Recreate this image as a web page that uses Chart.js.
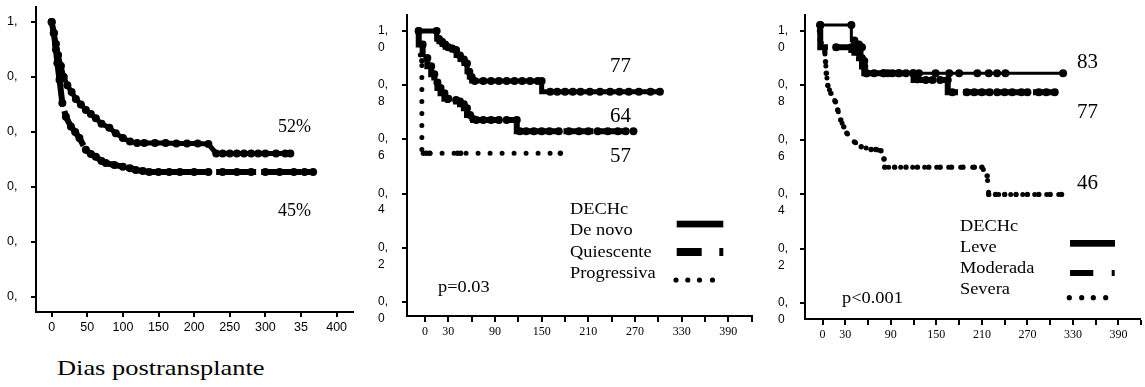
<!DOCTYPE html>
<html>
<head>
<meta charset="utf-8">
<script src="https://cdn.jsdelivr.net/npm/chart.js@4.4.1/dist/chart.umd.min.js"></script>
<style>
    html, body { margin: 0; padding: 0; background: #fff; }
    #wrap { position: relative; width: 1145px; height: 387px; overflow: hidden; }
    canvas { position: absolute; top: 0; }
    .t { position: absolute; font-family: 'Liberation Serif', 'Times New Roman', serif; line-height: 1; white-space: nowrap; color: #000; transform-origin: 0 0; }
    svg { position: absolute; }
</style>
</head>
<body>
<div id="wrap">
    <canvas id="c1" width="362" height="345" style="left:0;width:362px;height:345px"></canvas>
    <canvas id="c2" width="390" height="345" style="left:370px;width:390px;height:345px"></canvas>
    <canvas id="c3" width="385" height="345" style="left:760px;width:385px;height:345px"></canvas>

    <!-- panel 1 -->
    <div class="t" style="left:278px;top:117px;font-size:18px">52%</div>
    <div class="t" style="left:278px;top:201px;font-size:18px">45%</div>
    <div class="t" style="left:57px;top:357px;font-size:22px;transform:scaleX(1.2)">Dias postransplante</div>

    <!-- panel 2 -->
    <div class="t" style="left:610px;top:55px;font-size:21px">77</div>
    <div class="t" style="left:610px;top:105px;font-size:21px">64</div>
    <div class="t" style="left:610px;top:145px;font-size:21px">57</div>
    <div class="t" style="left:570px;top:200px;font-size:17px;transform:scaleX(1.08)">DECHc</div>
    <div class="t" style="left:570px;top:221px;font-size:17px;transform:scaleX(1.08)">De novo</div>
    <div class="t" style="left:570px;top:243px;font-size:17px;transform:scaleX(1.08)">Quiescente</div>
    <div class="t" style="left:570px;top:264px;font-size:17px;transform:scaleX(1.08)">Progressiva</div>
    <div class="t" style="left:438px;top:278px;font-size:17px;transform:scaleX(1.08)">p=0.03</div>
    <svg style="left:670px;top:215px" width="60" height="75">
        <rect x="6.7" y="5.7" width="46.6" height="6.7" fill="#000"/>
        <rect x="6.7" y="33" width="25" height="8" fill="#000"/>
        <rect x="49.3" y="33" width="4" height="8" fill="#000"/>
        <circle cx="6" cy="65" r="2.6"/><circle cx="17.8" cy="65" r="2.6"/><circle cx="29.5" cy="65" r="2.6"/><circle cx="42.5" cy="65" r="2.6"/>
    </svg>

    <!-- panel 3 -->
    <div class="t" style="left:1077px;top:51px;font-size:21px">83</div>
    <div class="t" style="left:1077px;top:101px;font-size:21px">77</div>
    <div class="t" style="left:1077px;top:172px;font-size:21px">46</div>
    <div class="t" style="left:960px;top:217px;font-size:17px;transform:scaleX(1.08)">DECHc</div>
    <div class="t" style="left:960px;top:238px;font-size:17px;transform:scaleX(1.08)">Leve</div>
    <div class="t" style="left:960px;top:259px;font-size:17px;transform:scaleX(1.08)">Moderada</div>
    <div class="t" style="left:960px;top:280px;font-size:17px;transform:scaleX(1.08)">Severa</div>
    <div class="t" style="left:842px;top:289px;font-size:17px;transform:scaleX(1.08)">p&lt;0.001</div>
    <svg style="left:1064px;top:235px" width="60" height="70">
        <rect x="6" y="5" width="45" height="6.7" fill="#000"/>
        <rect x="6" y="35" width="23.3" height="6" fill="#000"/>
        <rect x="47.7" y="35" width="3" height="6" fill="#000"/>
        <circle cx="5.3" cy="62.7" r="2.6"/><circle cx="17.7" cy="62.7" r="2.6"/><circle cx="29.3" cy="62.7" r="2.6"/><circle cx="41.7" cy="62.7" r="2.6"/>
    </svg>
</div>

<script>
/* ---- panel 1: global survival ---- */
const upperDays = [0, 3, 6, 9, 13, 17, 22, 28, 34, 41, 48, 55, 62, 70, 81, 90, 100, 110, 120, 130, 145, 160, 175, 190, 205, 220, 231, 240, 250, 260, 270, 280, 290, 300, 315, 328, 335];
const upperSurv = [1.0, 0.96, 0.92, 0.88, 0.84, 0.80, 0.77, 0.745, 0.72, 0.70, 0.68, 0.665, 0.65, 0.63, 0.615, 0.595, 0.578, 0.565, 0.56, 0.56, 0.56, 0.56, 0.558, 0.558, 0.558, 0.556, 0.522, 0.522, 0.522, 0.522, 0.522, 0.522, 0.522, 0.522, 0.522, 0.522, 0.522];
const lowerDays = [0, 3, 6, 8, 11, 15, 20, 27, 33, 39, 48, 55, 62, 70, 76, 88, 100, 110, 118, 128, 137, 150, 165, 180, 200, 220, 240, 260, 280, 300, 320, 340, 355, 367];
const lowerSurv = [1.0, 0.96, 0.90, 0.85, 0.79, 0.705, 0.655, 0.62, 0.60, 0.578, 0.535, 0.52, 0.51, 0.495, 0.487, 0.48, 0.474, 0.468, 0.462, 0.458, 0.455, 0.455, 0.455, 0.455, 0.455, 0.455, 0.455, 0.455, 0.455, 0.455, 0.455, 0.455, 0.455, 0.455];
const xTicks1 = [0, 50, 100, 150, 200, 250, 300, 350, 400];

/* ---- panel 2: DECHc de novo / quiescente / progressiva ---- */
const deNovoDays = [-8, 15, 18, 22, 26, 30, 35, 40, 45, 50, 54, 57, 60, 64, 75, 85, 95, 105, 115, 125, 135, 145, 150, 161, 170, 180, 190, 200, 212, 225, 238, 250, 262, 275, 290, 302];
const deNovoSurv = [1, 1, 0.97, 0.96, 0.95, 0.94, 0.935, 0.93, 0.91, 0.895, 0.88, 0.85, 0.83, 0.815, 0.815, 0.815, 0.815, 0.815, 0.815, 0.815, 0.815, 0.815, 0.815, 0.776, 0.776, 0.776, 0.776, 0.776, 0.776, 0.776, 0.776, 0.776, 0.776, 0.776, 0.776, 0.776];
const quiescDays = [-8, -3, 3, 8, 12, 16, 20, 25, 30, 40, 45, 50, 54, 58, 62, 66, 75, 85, 95, 105, 118, 122, 130, 140, 150, 160, 172, 185, 198, 210, 222, 235, 248, 258, 268];
const quiescSurv = [1, 0.95, 0.9, 0.87, 0.84, 0.81, 0.79, 0.77, 0.75, 0.745, 0.74, 0.73, 0.715, 0.69, 0.675, 0.672, 0.672, 0.672, 0.672, 0.672, 0.672, 0.63, 0.63, 0.63, 0.63, 0.63, 0.63, 0.63, 0.63, 0.63, 0.63, 0.63, 0.63, 0.63, 0.63];
const progDays = [-6, -4, -2, 2, 6, 42, 46, 174];
const progSurv = [1.0, 0.89, 0.549, 0.549, 0.549, 0.549, 0.549, 0.549];

/* ---- panel 3: DECHc leve / moderada / severa ---- */
const leveDays = [-3, 38, 42, 48, 52, 55, 58, 68, 81, 86, 92, 101, 110, 119, 127, 149, 167, 180, 204, 219, 230, 241, 317];
const leveSurv = [1.022, 1.022, 0.965, 0.95, 0.94, 0.89, 0.845, 0.845, 0.845, 0.845, 0.845, 0.845, 0.845, 0.845, 0.845, 0.845, 0.845, 0.845, 0.845, 0.845, 0.845, 0.845, 0.845];
const modDays = [-3, 18, 38, 42, 48, 52, 55, 58, 80, 100, 120, 136, 145, 155, 165, 171, 190, 200, 210, 220, 230, 240, 250, 262, 270, 285, 295, 306];
const modSurv = [1.022, 0.94, 0.94, 0.93, 0.92, 0.90, 0.87, 0.845, 0.845, 0.845, 0.845, 0.82, 0.82, 0.82, 0.82, 0.775, 0.775, 0.775, 0.775, 0.775, 0.775, 0.775, 0.775, 0.775, 0.775, 0.775, 0.775, 0.775];
const sevDays = [-4, -3, 3, 4, 5, 7, 11, 17, 20, 24, 28, 32, 42, 51, 64, 70, 77, 81, 82, 95, 110, 125, 140, 155, 170, 185, 200, 210, 217, 219, 228, 240, 255, 270, 285, 300, 315];
const sevSurv = [1.0, 0.967, 0.924, 0.887, 0.845, 0.80, 0.771, 0.74, 0.71, 0.673, 0.648, 0.625, 0.593, 0.575, 0.565, 0.565, 0.56, 0.53, 0.50, 0.50, 0.50, 0.50, 0.50, 0.50, 0.50, 0.50, 0.50, 0.50, 0.468, 0.40, 0.40, 0.40, 0.40, 0.40, 0.40, 0.40, 0.40];
const markDays = [125];
const markSurv = [0.82];

const yTicks = [0, 0.2, 0.4, 0.6, 0.8, 1];
const xTicks30 = [0, 30, 60, 90, 120, 150, 180, 210, 240, 270, 300, 330, 360, 390, 420];
const xLabelled = [0, 30, 90, 150, 210, 270, 330, 390];

Chart.defaults.font.family = "'Liberation Sans', Arial, sans-serif";
Chart.defaults.color = '#000';

const solid = { borderWidth: 5, pointRadius: 4 };
const dashed = { borderWidth: 6, borderDash: [30, 5], pointRadius: 4 };
const dotted = { borderWidth: 5, borderDash: [0, 12], borderCapStyle: 'round', pointRadius: 2.7 };

function curve(days, surv, style, extra) {
    return Object.assign({
        data: days.map((d, i) => ({ x: d, y: surv[i] })),
        borderColor: '#000', backgroundColor: '#000', pointBorderWidth: 0, fill: false, tension: 0
    }, style, extra || {});
}

function kmChart(id, c) {
    new Chart(document.getElementById(id), {
        type: 'line',
        data: { datasets: c.datasets },
        options: {
            responsive: false, animation: false,
            layout: { padding: c.padding },
            plugins: { legend: { display: false }, tooltip: { enabled: false } },
            scales: {
                x: {
                    type: 'linear', min: c.xMin, max: c.xMax,
                    afterBuildTicks: s => { s.ticks = c.xTicks.map(v => ({ value: v })); },
                    afterFit: s => { s.height = c.xHeight; s.paddingLeft = 0; s.paddingRight = 0; },
                    ticks: { autoSkip: false, maxRotation: 0, padding: 3, font: c.xFont, callback: c.xLabel },
                    grid: { drawOnChartArea: false, drawTicks: true, tickLength: c.tickLen, color: '#000', lineWidth: 2 },
                    border: { display: true, color: '#000', width: 2 }
                },
                y: {
                    min: c.yMin, max: c.yMax,
                    afterBuildTicks: s => { s.ticks = yTicks.map(v => ({ value: v })); },
                    afterFit: s => { s.width = c.yWidth; s.paddingTop = 0; s.paddingBottom = 0; },
                    ticks: { crossAlign: 'far', labelOffset: c.yOffset, font: c.yFont, callback: c.yLabel },
                    grid: { drawOnChartArea: false, drawTicks: true, tickLength: 5, color: '#000', lineWidth: 2 },
                    border: { display: true, color: '#000', width: 2 }
                }
            }
        }
    });
}

const twoLine = v => [v === 1 ? '1,' : '0,', String(Math.round(v * 10) % 10)];

kmChart('c1', {
    datasets: [curve(upperDays, upperSurv, solid), curve(lowerDays, lowerSurv, dashed, { borderDash: [40, 5] })],
    padding: { left: 7, top: 7, right: 9, bottom: 8 },
    xMin: -22, xMax: 423, yMin: -0.0545, yMax: 1.0545,
    xTicks: xTicks1, xHeight: 25, yWidth: 29, tickLen: 5, yOffset: 0,
    xFont: { size: 12.5 }, yFont: { size: 12.5 },
    xLabel: v => v === 350 ? '35' : String(v),
    yLabel: v => v === 1 ? '1,' : '0,'
});

kmChart('c2', {
    datasets: [
        curve(deNovoDays, deNovoSurv, solid, { stepped: 'after' }),
        curve(quiescDays, quiescSurv, dashed, { stepped: 'after' }),
        curve(progDays, progSurv, dotted, { stepped: 'after' })
    ],
    padding: { left: 8, top: 15, right: 8, bottom: 4 },
    xMin: -23.1, xMax: 420.4, yMin: -0.0517, yMax: 1.059,
    xTicks: xTicks30, xHeight: 25, yWidth: 29, tickLen: 6, yOffset: 8,
    xFont: { family: "'Liberation Serif', serif", size: 12 }, yFont: { size: 12, lineHeight: 1.4 },
    xLabel: v => xLabelled.includes(v) ? String(v) : '',
    yLabel: twoLine
});

kmChart('c3', {
    datasets: [
        curve(leveDays, leveSurv, { borderWidth: 3, pointRadius: 4 }, { stepped: 'after' }),
        curve(modDays, modSurv, dashed, { stepped: 'after' }),
        curve(sevDays, sevSurv, dotted),
        curve(markDays, markSurv, { showLine: false, pointStyle: 'cross', pointRadius: 4, pointBorderWidth: 1.5, borderColor: '#2db84a' })
    ],
    padding: { left: 18, top: 15, right: 3, bottom: 4 },
    xMin: -23.1, xMax: 417.7, yMin: -0.0577, yMax: 1.0588,
    xTicks: xTicks30, xHeight: 22, yWidth: 27, tickLen: 6, yOffset: 8,
    xFont: { family: "'Liberation Serif', serif", size: 12 }, yFont: { size: 12, lineHeight: 1.4 },
    xLabel: v => xLabelled.includes(v) ? String(v) : '',
    yLabel: twoLine
});
</script>
</body>
</html>
